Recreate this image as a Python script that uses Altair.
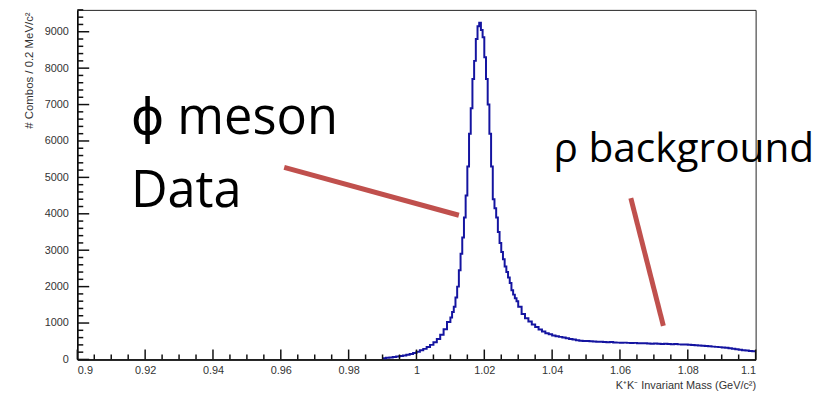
import altair as alt
import pandas as pd

# ---- histogram data (K+K- invariant mass, GeV/c^2) ----
# 0.990 - 1.010, 1 MeV bins
counts_a = [30, 45, 55, 65, 80, 95, 110, 130, 150, 180,
            210, 250, 290, 340, 400, 470, 560, 680, 830, 1030]
# 1.010 - 1.030, 0.5 MeV bins
counts_b = [1150, 1300, 1450, 1700, 2000, 2450, 2900, 3350, 3900, 4500,
            5300, 6200, 6900, 7700, 8200, 8800, 9150, 9250, 9050, 8850,
            8300, 7700, 7000, 6200, 5300, 4400, 4150, 3900, 3500, 3200,
            2950, 2750, 2550, 2400, 2250, 2100, 1900, 1780, 1680, 1600]
# 1.030 - 1.100, 1 MeV bins
counts_c = [1450, 1250, 1130, 1040, 960, 890, 820, 770, 720, 690,
            660, 640, 620, 600, 580, 560, 545, 530, 515, 508,
            505, 500, 495, 488, 485, 480, 472, 476, 468, 462,
            458, 462, 455, 450, 455, 446, 442, 446, 438, 434,
            438, 430, 426, 430, 422, 418, 422, 414, 410, 412,
            405, 398, 392, 385, 378, 370, 362, 352, 345, 338,
            330, 318, 305, 292, 280, 268, 255, 245, 235, 225]

edges = ([round(0.990 + 0.001 * i, 4) for i in range(len(counts_a))]
         + [round(1.010 + 0.0005 * i, 5) for i in range(len(counts_b))]
         + [round(1.030 + 0.001 * i, 4) for i in range(len(counts_c))]
         + [1.100])
counts = counts_a + counts_b + counts_c + [counts_c[-1]]
hist_df = pd.DataFrame({"mass": edges, "count": counts})

x_major = [0.9, 0.92, 0.94, 0.96, 0.98, 1.0, 1.02, 1.04, 1.06, 1.08, 1.1]
x_minor = [round(0.9 + 0.005 * i, 3) for i in range(41) if i % 4 != 0]
y_major = [0, 1000, 2000, 3000, 4000, 5000, 6000, 7000, 8000, 9000]
y_minor = [200 * i for i in range(49) if i % 5 != 0]

# annotations (data coordinates)
label_text = ["ϕ meson", "Data"]
label_x = [0.9158, 0.9158]
label_y = [6200, 4180]
bg_text = ["ρ background"]
bg_x = [1.0404]
bg_y = [5420]
arrow_x = [0.9610, 1.0632]
arrow_y = [5275, 4430]
arrow_x2 = [1.0125, 1.0728]
arrow_y2 = [3960, 920]

W, H = 685, 353
XMIN, XMAX, YMAX = 0.9, 1.1, 9600
xscale = alt.Scale(domain=[XMIN, XMAX], nice=False, zero=False)
yscale = alt.Scale(domain=[0, YMAX], nice=False, zero=True)
FONT = "Liberation Sans"

hist = alt.Chart(hist_df).mark_line(
    interpolate="step-after", color="#1414a0", strokeWidth=2
).encode(
    x=alt.X("mass:Q", scale=xscale, axis=alt.Axis(
        values=x_major, format="~g", tickSize=0, labelPadding=5,
        labelFont=FONT, labelFontSize=11, labelColor="#333",
        domainColor="black", domainWidth=1.5, grid=False,
        title="K⁺K⁻ Invariant Mass (GeV/c²)", titleFont=FONT,
        titleFontSize=11, titleFontWeight="normal", titleColor="#333",
        titleX=W, titleY=26, titleAlign="right", titleBaseline="middle")),
    y=alt.Y("count:Q", scale=yscale, axis=alt.Axis(
        values=y_major, format="d", tickSize=0, labelPadding=9,
        labelFont=FONT, labelFontSize=11, labelColor="#333",
        domainColor="black", domainWidth=1.5, grid=False,
        title="# Combos / 0.2 MeV/c²", titleFont=FONT, titleFontSize=11.5,
        titleFontWeight="normal", titleColor="#333", titleAngle=270,
        titleX=-48, titleY=2, titleAlign="right", titleBaseline="middle")),
)

# inside-pointing ticks (ROOT style) as segments; lengths in pixels
tick_rows = []
for v in x_major:
    tick_rows.append({"x": v, "x2": v, "y": 0.0, "y2": 10 / H * YMAX})
for v in x_minor:
    tick_rows.append({"x": v, "x2": v, "y": 0.0, "y2": 5 / H * YMAX})
for v in y_major:
    tick_rows.append({"x": XMIN, "x2": XMIN + 12 / W * (XMAX - XMIN), "y": v, "y2": v})
for v in y_minor:
    tick_rows.append({"x": XMIN, "x2": XMIN + 6 / W * (XMAX - XMIN), "y": v, "y2": v})
tick_df = pd.DataFrame(tick_rows)

ticks = alt.Chart(tick_df).mark_rule(
    color="#111", strokeWidth=1.5, strokeCap="butt"
).encode(
    x=alt.X("x:Q", scale=xscale, axis=None),
    y=alt.Y("y:Q", scale=yscale, axis=None),
    x2="x2:Q",
    y2="y2:Q",
)

lab_df = pd.DataFrame({"x": label_x, "y": label_y, "t": label_text})
labels = alt.Chart(lab_df).mark_text(
    align="left", baseline="alphabetic", font="Open Sans, DejaVu Sans",
    fontSize=51, color="black"
).encode(
    x=alt.X("x:Q", scale=xscale, axis=None),
    y=alt.Y("y:Q", scale=yscale, axis=None),
    text="t:N",
)

bg_df = pd.DataFrame({"x": bg_x, "y": bg_y, "t": bg_text})
bg_label = alt.Chart(bg_df).mark_text(
    align="left", baseline="alphabetic", font="Open Sans, DejaVu Sans",
    fontSize=41, color="black"
).encode(
    x=alt.X("x:Q", scale=xscale, axis=None),
    y=alt.Y("y:Q", scale=yscale, axis=None),
    text="t:N",
)

arr_df = pd.DataFrame({"x": arrow_x, "y": arrow_y, "x2": arrow_x2, "y2": arrow_y2})
arrows = alt.Chart(arr_df).mark_rule(
    color="#c0504d", strokeWidth=5, strokeCap="butt"
).encode(
    x=alt.X("x:Q", scale=xscale, axis=None),
    y=alt.Y("y:Q", scale=yscale, axis=None),
    x2="x2:Q",
    y2="y2:Q",
)

chart = alt.layer(
    hist, ticks, arrows, labels, bg_label
).resolve_axis(
    x="independent", y="independent"
).properties(
    width=W, height=H,
    autosize=alt.AutoSizeParams(type="none"),
    padding={"left": 70, "top": 0, "right": 64, "bottom": 34},
).configure_view(
    stroke="#222", strokeWidth=1
)

chart.save("out.html", embed_options={"renderer": "svg", "actions": False})
